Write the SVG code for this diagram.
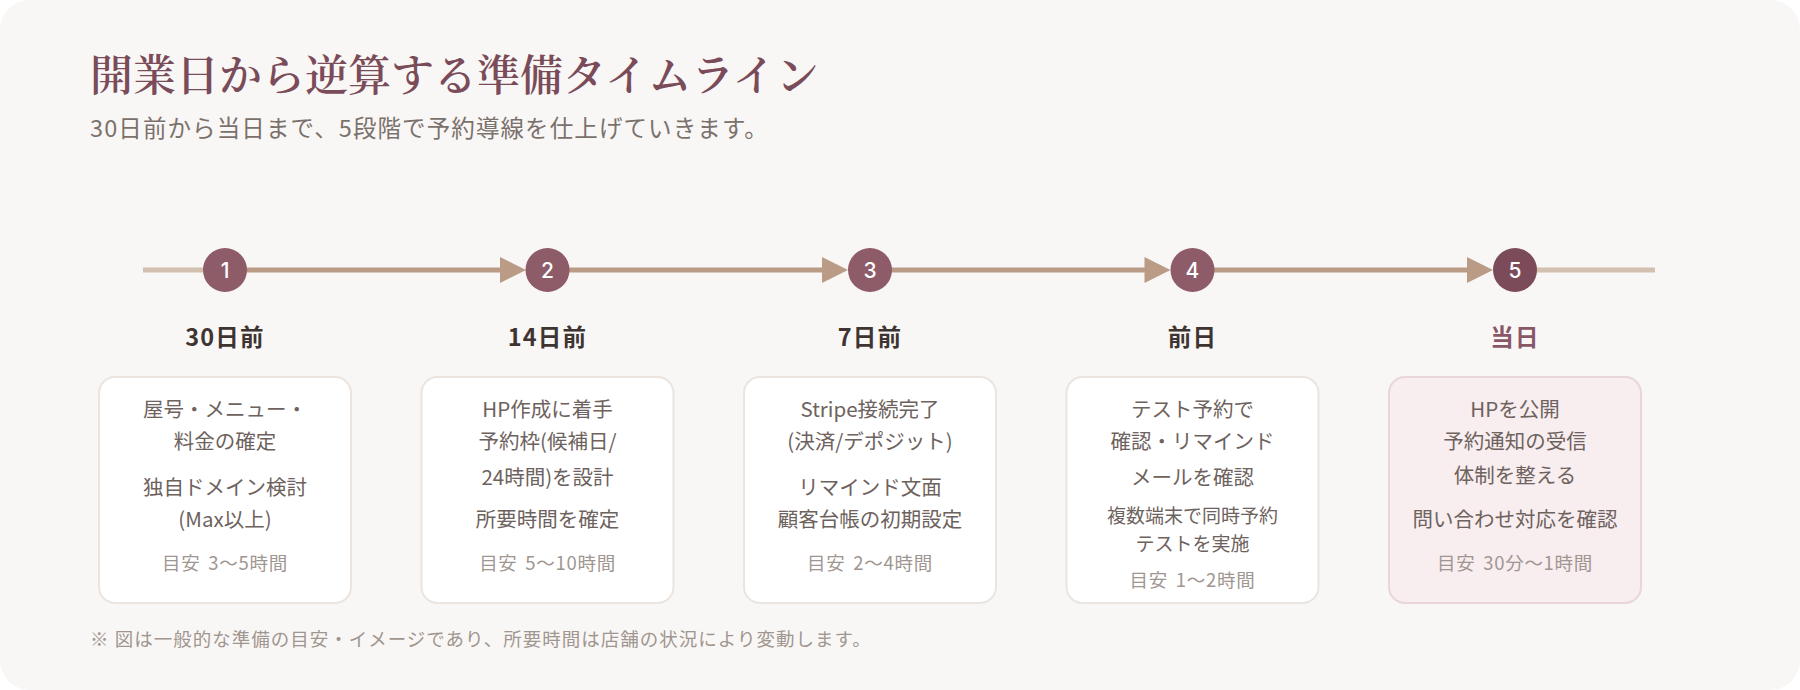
<svg xmlns="http://www.w3.org/2000/svg" width="1800" height="690" viewBox="0 0 1800 690">
<defs>
<style>
.title{font-family:"Noto Serif CJK JP","Noto Sans CJK JP",serif;font-size:43px;font-weight:600;fill:#7a4b59}
.sub{font-family:"Noto Sans CJK JP",sans-serif;font-size:23.5px;fill:#7b716c;letter-spacing:1.1px}
.num{font-family:Inter,"Noto Sans",sans-serif;font-size:21px;font-weight:500;fill:#ffffff;text-anchor:middle}
.lbl{font-family:"Noto Sans CJK JP",sans-serif;font-size:23.5px;font-weight:700;fill:#3e3431;text-anchor:middle;letter-spacing:1.2px}
.card{fill:#ffffff;stroke:#ece4de;stroke-width:2}
.card5{fill:#f8edef;stroke:#e8d6da;stroke-width:2}
.body{font-family:"Noto Sans CJK JP",sans-serif;font-size:20.5px;fill:#6d625d;text-anchor:middle}
.small{font-family:"Noto Sans CJK JP",sans-serif;font-size:19px;fill:#6d625d;text-anchor:middle}
.meta{font-family:"Noto Sans CJK JP",sans-serif;font-size:18.5px;fill:#a09691;text-anchor:middle;letter-spacing:0.7px;word-spacing:3px}
.note{font-family:"Noto Sans CJK JP",sans-serif;font-size:18.5px;fill:#a0958f;letter-spacing:1px}
.dot{fill:#8e5b69}
.seg{stroke:#b99b86;stroke-width:5}
.end{stroke:#d4c0af;stroke-width:5}
.arr{fill:#b99b86}
</style>
</defs>
<rect x="0" y="0" width="1800" height="690" fill="#ffffff"/>
<rect x="0" y="0" width="1800" height="690" rx="30" fill="#f9f7f5"/>
<text class="title" x="90" y="91">開業日から逆算する準備タイムライン</text>
<text class="sub" x="90" y="137">30日前から当日まで、5段階で予約導線を仕上げていきます。</text>

<g id="connectors">
<line class="end" x1="143" y1="270" x2="225" y2="270"/>
<line class="seg" x1="225" y1="270" x2="505" y2="270"/>
<polygon class="arr" points="500,257 526,270 500,283"/>
<line class="seg" x1="547.5" y1="270" x2="828" y2="270"/>
<polygon class="arr" points="822,257 848,270 822,283"/>
<line class="seg" x1="870" y1="270" x2="1150" y2="270"/>
<polygon class="arr" points="1144.5,257 1170.5,270 1144.5,283"/>
<line class="seg" x1="1192.5" y1="270" x2="1473" y2="270"/>
<polygon class="arr" points="1467,257 1493,270 1467,283"/>
<line class="end" x1="1515" y1="270" x2="1655" y2="270"/>
</g>

<g id="step1">
<circle class="dot" cx="225" cy="270" r="22"/>
<text class="num" x="225" y="277.5">1</text>
<text class="lbl" x="225" y="346">30日前</text>
<rect class="card" x="99" y="377" width="252" height="226" rx="16"/>
<text class="body" x="225" y="417">屋号・メニュー・</text>
<text class="body" x="225" y="449">料金の確定</text>
<text class="body" x="225" y="495">独自ドメイン検討</text>
<text class="body" x="225" y="527">(Max以上)</text>
<text class="meta" x="225" y="570">目安 3〜5時間</text>
</g>

<g id="step2">
<circle class="dot" cx="547.5" cy="270" r="22"/>
<text class="num" x="547.5" y="277.5">2</text>
<text class="lbl" x="547.5" y="346">14日前</text>
<rect class="card" x="421.5" y="377" width="252" height="226" rx="16"/>
<text class="body" x="547.5" y="417">HP作成に着手</text>
<text class="body" x="547.5" y="449">予約枠(候補日/</text>
<text class="body" x="547.5" y="485">24時間)を設計</text>
<text class="body" x="547.5" y="527">所要時間を確定</text>
<text class="meta" x="547.5" y="570">目安 5〜10時間</text>
</g>

<g id="step3">
<circle class="dot" cx="870" cy="270" r="22"/>
<text class="num" x="870" y="277.5">3</text>
<text class="lbl" x="870" y="346">7日前</text>
<rect class="card" x="744" y="377" width="252" height="226" rx="16"/>
<text class="body" x="870" y="417">Stripe接続完了</text>
<text class="body" x="870" y="449">(決済/デポジット)</text>
<text class="body" x="870" y="495">リマインド文面</text>
<text class="body" x="870" y="527">顧客台帳の初期設定</text>
<text class="meta" x="870" y="570">目安 2〜4時間</text>
</g>

<g id="step4">
<circle class="dot" cx="1192.5" cy="270" r="22"/>
<text class="num" x="1192.5" y="277.5">4</text>
<text class="lbl" x="1192.5" y="346">前日</text>
<rect class="card" x="1066.5" y="377" width="252" height="226" rx="16"/>
<text class="body" x="1192.5" y="417">テスト予約で</text>
<text class="body" x="1192.5" y="449">確認・リマインド</text>
<text class="body" x="1192.5" y="485">メールを確認</text>
<text class="small" x="1192.5" y="523">複数端末で同時予約</text>
<text class="small" x="1192.5" y="551">テストを実施</text>
<text class="meta" x="1192.5" y="587">目安 1〜2時間</text>
</g>

<g id="step5">
<circle cx="1515" cy="270" r="22" fill="#7b4b5a"/>
<text class="num" x="1515" y="277.5">5</text>
<text class="lbl" x="1515" y="346" style="fill:#8a5767">当日</text>
<rect class="card5" x="1389" y="377" width="252" height="226" rx="16"/>
<text class="body" x="1515" y="417">HPを公開</text>
<text class="body" x="1515" y="449">予約通知の受信</text>
<text class="body" x="1515" y="483">体制を整える</text>
<text class="body" x="1515" y="527">問い合わせ対応を確認</text>
<text class="meta" x="1515" y="570">目安 30分〜1時間</text>
</g>

<text class="note" x="90" y="646">※ 図は一般的な準備の目安・イメージであり、所要時間は店舗の状況により変動します。</text>
</svg>
